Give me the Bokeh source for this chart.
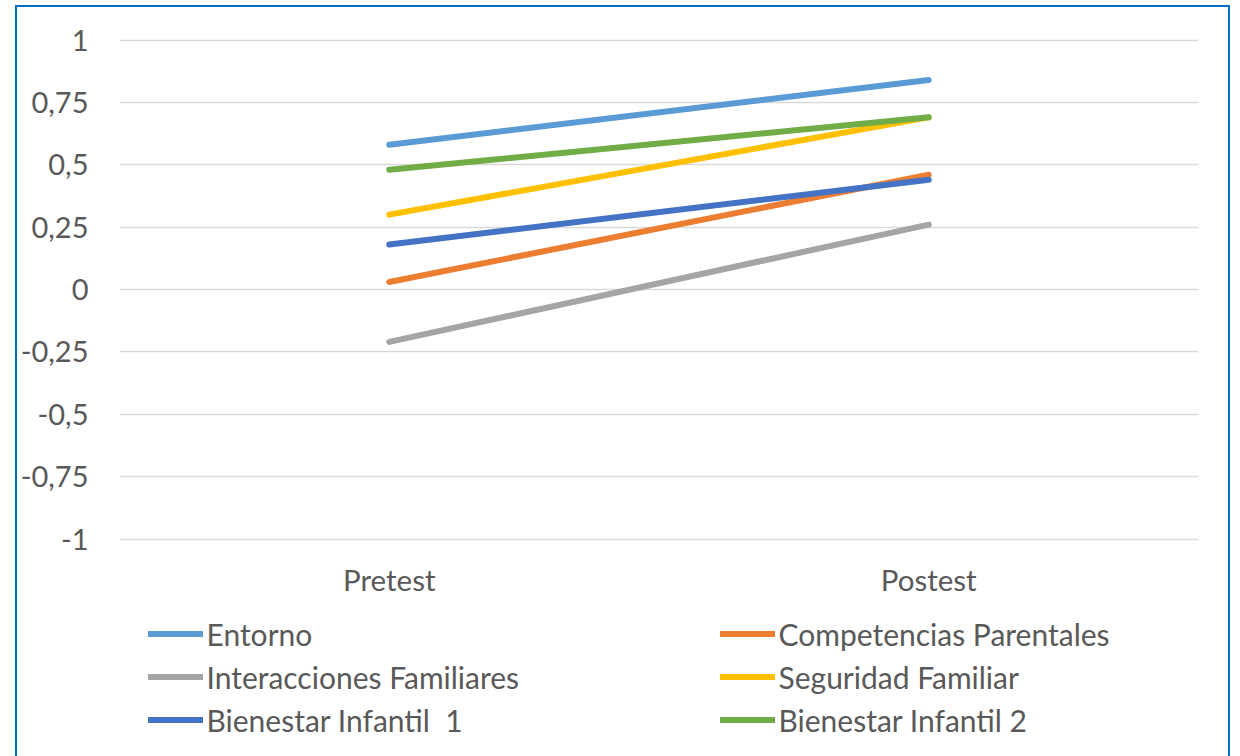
from bokeh.plotting import figure
from bokeh.models import (FactorRange, Range1d, FixedTicker, CustomJSTickFormatter,
                          Legend, LegendItem, ColumnDataSource)
from bokeh.core.properties import value
from bokeh.embed import file_html
from bokeh.resources import INLINE

phases = ["Pretest", "Postest"]
series_names = ["Entorno", "Competencias Parentales", "Interacciones Familiares",
                "Seguridad Familiar", "Bienestar Infantil  1", "Bienestar Infantil 2"]
entorno = [0.58, 0.84]
competencias = [0.03, 0.46]
interacciones = [-0.21, 0.26]
seguridad = [0.30, 0.69]
bienestar1 = [0.18, 0.44]
bienestar2 = [0.48, 0.69]
colors = ["#5B9BD5", "#ED7D31", "#A5A5A5", "#FFC000", "#4472C4", "#70AD47"]
y_ticks = [-1, -0.75, -0.5, -0.25, 0, 0.25, 0.5, 0.75, 1]
y_min, y_max = -1, 1

FONT = "Lato"
TXT = "#595959"
FS = "29px"
FS_LEG = "30px"

W, H = 1215, 751
MB_TOP = 31
PX_PER_UNIT = 249.5
top_pad = 1.5 / PX_PER_UNIT
frame_h = H - MB_TOP
y_hi = y_max + top_pad
y_lo = y_hi - frame_h / PX_PER_UNIT

p = figure(width=W, height=H, x_range=FactorRange(*phases, range_padding=0),
           y_range=Range1d(y_lo, y_hi), output_backend="svg", toolbar_location=None,
           min_border_left=102, min_border_right=34, min_border_top=MB_TOP, min_border_bottom=0)
p.styles = {"margin-left": "15px", "margin-top": "5px",
            "border": "2.5px solid #0070C0", "border-bottom": "none"}
p.outline_line_color = None
p.background_fill_color = "white"
p.border_fill_color = "white"
p.xaxis.visible = False

p.yaxis.ticker = FixedTicker(ticks=y_ticks)
p.yaxis.formatter = CustomJSTickFormatter(code="return tick.toString().replace('.', ',');")
ax = p.yaxis
ax.axis_line_color = None
ax.major_tick_line_color = None
ax.minor_tick_line_color = None
ax.major_tick_out = 0
ax.major_tick_in = 0
ax.minor_tick_out = 0
ax.major_label_text_font = FONT
ax.major_label_text_font_size = FS
ax.major_label_text_color = TXT
ax.major_label_standoff = 31
p.xgrid.grid_line_color = None
p.ygrid.grid_line_color = "#D9D9D9"
p.ygrid.grid_line_width = 1.5

# category labels under the plot area
cat_src = ColumnDataSource(dict(x=phases, y=[y_min] * len(phases), t=phases))
p.text(x="x", y="y", text="t", source=cat_src, y_offset=40,
       text_align="center", text_baseline="middle",
       text_font=value(FONT), text_font_size="29.5px", text_color=TXT)

all_series = [entorno, competencias, interacciones, seguridad, bienestar1, bienestar2]
renderers = []
for vals, c in zip(all_series, colors):
    r = p.line(phases, vals, line_color=c, line_width=6, line_cap="round")
    renderers.append(r)

def make_legend(idxs, x):
    lg = Legend(items=[LegendItem(label=series_names[i], renderers=[renderers[i]]) for i in idxs],
                location=(x, 17), orientation="vertical",
                glyph_width=55, glyph_height=43, label_height=43, label_standoff=4,
                spacing=0, padding=0, margin=0, border_line_color=None,
                background_fill_alpha=0,
                label_text_font=FONT, label_text_font_size=FS_LEG, label_text_color=TXT)
    p.add_layout(lg, "center")

make_legend([0, 2, 4], 28.5)
make_legend([1, 3, 5], 600.5)

open("out.html", "w").write(file_html(p, INLINE))
